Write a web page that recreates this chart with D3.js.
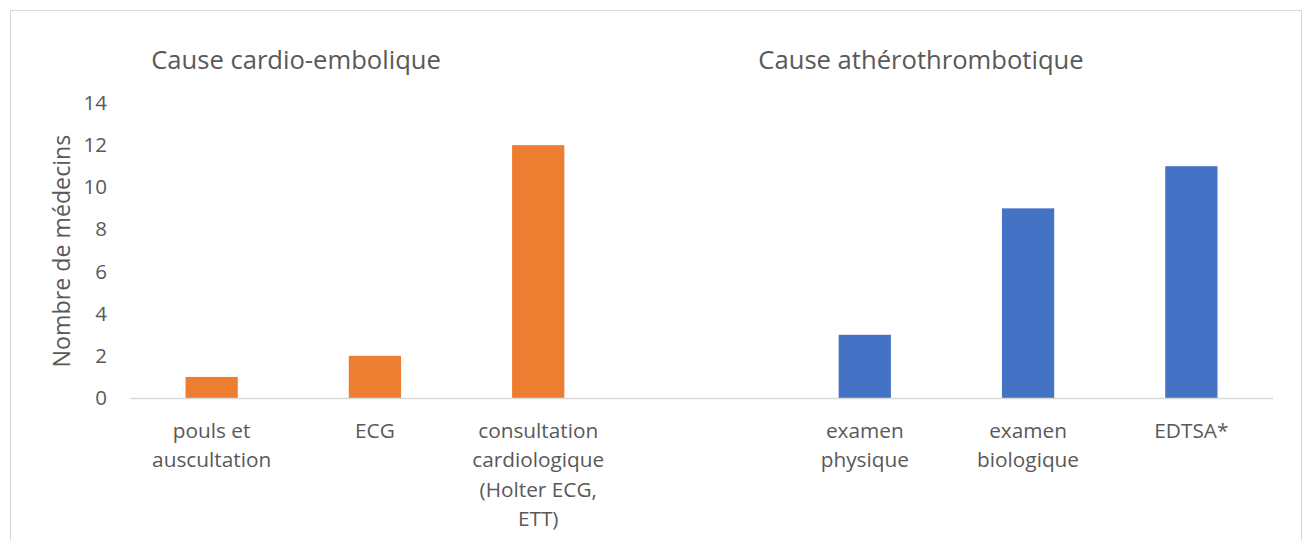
<!DOCTYPE html>
<html><head><meta charset="utf-8">
<script src="https://cdn.jsdelivr.net/npm/d3@7"></script>
<style>
body{margin:0;background:#fff;}
text{font-family:"Open Sans",sans-serif;fill:#595959;}
</style></head>
<body><svg id="c" width="1308" height="541"></svg>
<script>
const categories = ["pouls et\nauscultation","ECG","consultation\ncardiologique\n(Holter ECG,\nETT)","","examen\nphysique","examen\nbiologique","EDTSA*"];
const cardioValues = [1,2,12,null,null,null,null];
const atheroValues = [null,null,null,null,3,9,11];
const yTicks = [0,2,4,6,8,10,12,14];
const groupTitles = ["Cause cardio-embolique","Cause athérothrombotique"];
const yTitle = "Nombre de médecins";

const svg = d3.select("#c");
svg.append("rect").attr("x",10.5).attr("y",10.5).attr("width",1291).attr("height",560)
  .attr("fill","#fff").attr("stroke","#d9d9d9");

const x = d3.scaleBand().domain(d3.range(categories.length)).range([130,1273]).paddingInner(0.68).paddingOuter(0.34);
const y = d3.scaleLinear().domain([0,14]).range([398,103]);

// y axis
const ya = svg.append("g").attr("transform","translate(107,0)")
  .call(d3.axisLeft(y).tickValues(yTicks).tickSize(0).tickPadding(0));
ya.select(".domain").remove();
ya.selectAll("text").style("font-size","20.5px").style("fill","#595959").style("font-family","'Open Sans',sans-serif");

// bars
const series = [{vals:cardioValues,color:"#ED7D31"},{vals:atheroValues,color:"#4472C4"}];
series.forEach(s=>{
  svg.append("g").selectAll("rect").data(s.vals.map((v,i)=>({v,i})).filter(d=>d.v!=null))
    .join("rect")
    .attr("x",d=>x(d.i)).attr("width",x.bandwidth())
    .attr("y",d=>y(d.v)).attr("height",d=>y(0)-y(d.v))
    .attr("fill",s.color);
});

// x axis line
svg.append("line").attr("x1",130).attr("x2",1273).attr("y1",y(0)+0.5).attr("y2",y(0)+0.5)
  .attr("stroke","#d9d9d9").attr("stroke-width",1.5);

// category labels
categories.forEach((c,i)=>{
  const t = svg.append("text").attr("text-anchor","middle").style("font-size","20.8px");
  c.split("\n").forEach((l,j)=>{
    t.append("tspan").attr("x",x(i)+x.bandwidth()/2).attr("y",437.5+j*29.5).text(l);
  });
});

// group titles
svg.append("text").attr("x",296).attr("y",68.5).attr("text-anchor","middle").style("font-size","25.6px").text(groupTitles[0]);
svg.append("text").attr("x",921).attr("y",68.5).attr("text-anchor","middle").style("font-size","25.6px").text(groupTitles[1]);

// y title
svg.append("text").attr("transform","translate(70,251) rotate(-90)").attr("text-anchor","middle")
  .style("font-size","23.2px").text(yTitle);
</script></body></html>
